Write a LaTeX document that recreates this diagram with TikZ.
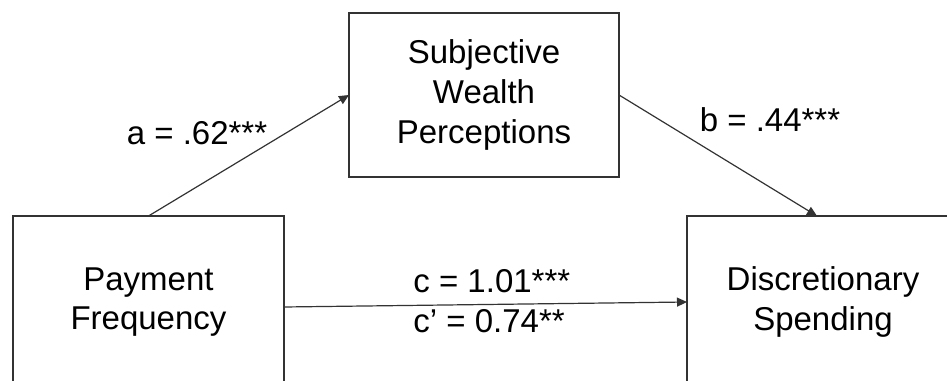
\documentclass[tikz,border=0pt]{standalone}
\usepackage{fontspec}
\setmainfont{Liberation Sans}
\usetikzlibrary{arrows.meta}

\tikzset{
    varbox/.style={draw=black!80, line width=0.7pt, inner sep=0pt, outer sep=0pt,
        minimum width=135pt, align=center, font=\fontsize{16.5}{19.8}\selectfont},
    path/.style={draw=black!80, line width=0.6pt, -{Triangle[length=5pt,width=4.5pt]}},
    coef/.style={font=\fontsize{16.5}{19.8}\selectfont, inner sep=0pt}
}

\begin{document}
\begin{tikzpicture}[x=0.5pt,y=0.5pt]

% Frame (pixel grid of the reference)
\useasboundingbox (0,0) rectangle (947,380);
\clip (0,0) rectangle (947,380);

% Variables
\node[varbox, minimum width=135.5pt, minimum height=86pt] (pay) at (148.5,78) {Payment\\Frequency};
\node[varbox, minimum height=82pt] (swp) at (484,285) {Subjective\\Wealth\\Perceptions};
\node[varbox, minimum width=136pt, minimum height=86pt] (dis) at (823,78) {Discretionary\\Spending};

% Paths
\draw[path] (pay.north) -- (swp.west);
\draw[path] (swp.east) -- ([xshift=-3pt]dis.north);
\draw[path] ([yshift=-2.5pt]pay.east) -- (dis.west);

% Coefficients
\node[coef, anchor=base] (a) at (197,235) {a = .62***};
\node[coef, anchor=base] (b) at (770,248) {b = .44***};
\node[coef, anchor=base west] (c) at (413,87) {c = 1.01***};
\node[coef, anchor=base west] (cp) at (413,47) {c’ = 0.74**};

\end{tikzpicture}
\end{document}
